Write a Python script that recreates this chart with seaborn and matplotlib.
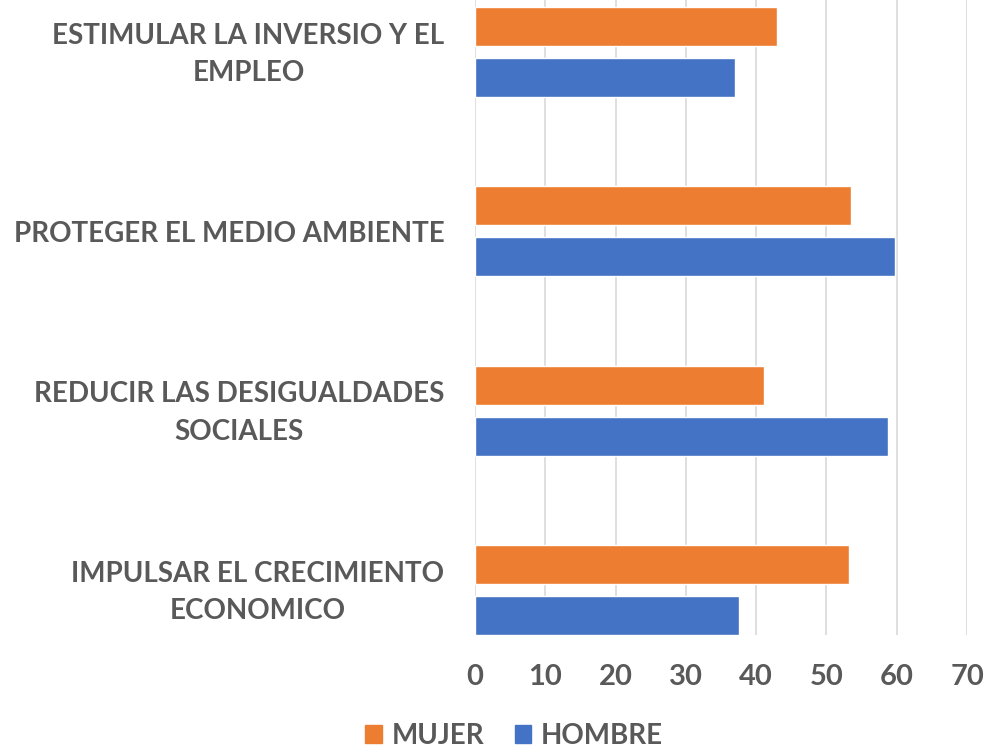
import matplotlib
matplotlib.use("Agg")
import matplotlib.pyplot as plt
import matplotlib.patches as mpatches
import matplotlib.transforms as mtransforms
import pandas as pd
import seaborn as sns

categories = [
    "ESTIMULAR LA INVERSIO Y EL\nEMPLEO",
    "PROTEGER EL MEDIO AMBIENTE",
    "REDUCIR LAS DESIGUALDADES\nSOCIALES",
    "IMPULSAR EL CRECIMIENTO\nECONOMICO",
]
mujer = [43.0, 53.5, 41.1, 53.2]
hombre = [37.0, 59.7, 58.8, 37.6]
series = ["MUJER", "HOMBRE"]
colors = {"MUJER": "#ED7D31", "HOMBRE": "#4472C4"}
x_ticks = [0, 10, 20, 30, 40, 50, 60, 70]

df = pd.DataFrame({
    "categoria": categories * 2,
    "serie": ["MUJER"] * len(categories) + ["HOMBRE"] * len(categories),
    "valor": mujer + hombre,
})

sns.set_theme(style="white")
plt.rcParams["font.family"] = ["Lato", "DejaVu Sans"]
text_color = "#595959"

fig = plt.figure(figsize=(9.89, 7.54), dpi=100)
ax = fig.add_axes([0.4803, 0.1578, 0.4975, 0.8422])

sns.barplot(data=df, x="valor", y="categoria", hue="serie",
            order=categories, hue_order=series, palette=colors,
            orient="h", width=0.569, gap=0.235, saturation=1,
            legend=False, ax=ax, zorder=2)

ax.set_xlim(0, 70)
ax.set_ylim(3.251, -0.29)
ax.set_xticks(x_ticks)
ax.xaxis.grid(True, color="#d9d9d9", linewidth=1.2, zorder=0)
ax.set_axisbelow(True)
for s in ax.spines.values():
    s.set_visible(False)
ax.set_xlabel("")
ax.set_ylabel("")
ax.tick_params(axis="both", length=0, colors=text_color)
ax.tick_params(axis="x", pad=21)
ax.tick_params(axis="y", pad=22)
for lbl in ax.get_xticklabels():
    lbl.set_fontsize(21)
    lbl.set_fontweight("bold")
    lbl.set_color(text_color)

# two-line labels sit a bit high in the original
lift = mtransforms.ScaledTranslation(0, 6 / 100, fig.dpi_scale_trans)
for lbl in ax.get_yticklabels():
    lbl.set_fontsize(20)
    lbl.set_fontweight("bold")
    lbl.set_color(text_color)
    lbl.set_multialignment("center")
    lbl.set_linespacing(1.55)
    if "\n" in lbl.get_text():
        lbl.set_transform(lbl.get_transform() + lift)

handles = [mpatches.Patch(color=colors[s], label=s) for s in series]
fig.legend(handles=handles, loc="center", bbox_to_anchor=(0.52, 0.024),
           ncol=2, frameon=False, handlelength=0.6, handleheight=0.6,
           handletextpad=0.35, columnspacing=1.1,
           prop={"size": 20, "weight": "bold"}, labelcolor=text_color)

fig.savefig("out.png", dpi=100)
